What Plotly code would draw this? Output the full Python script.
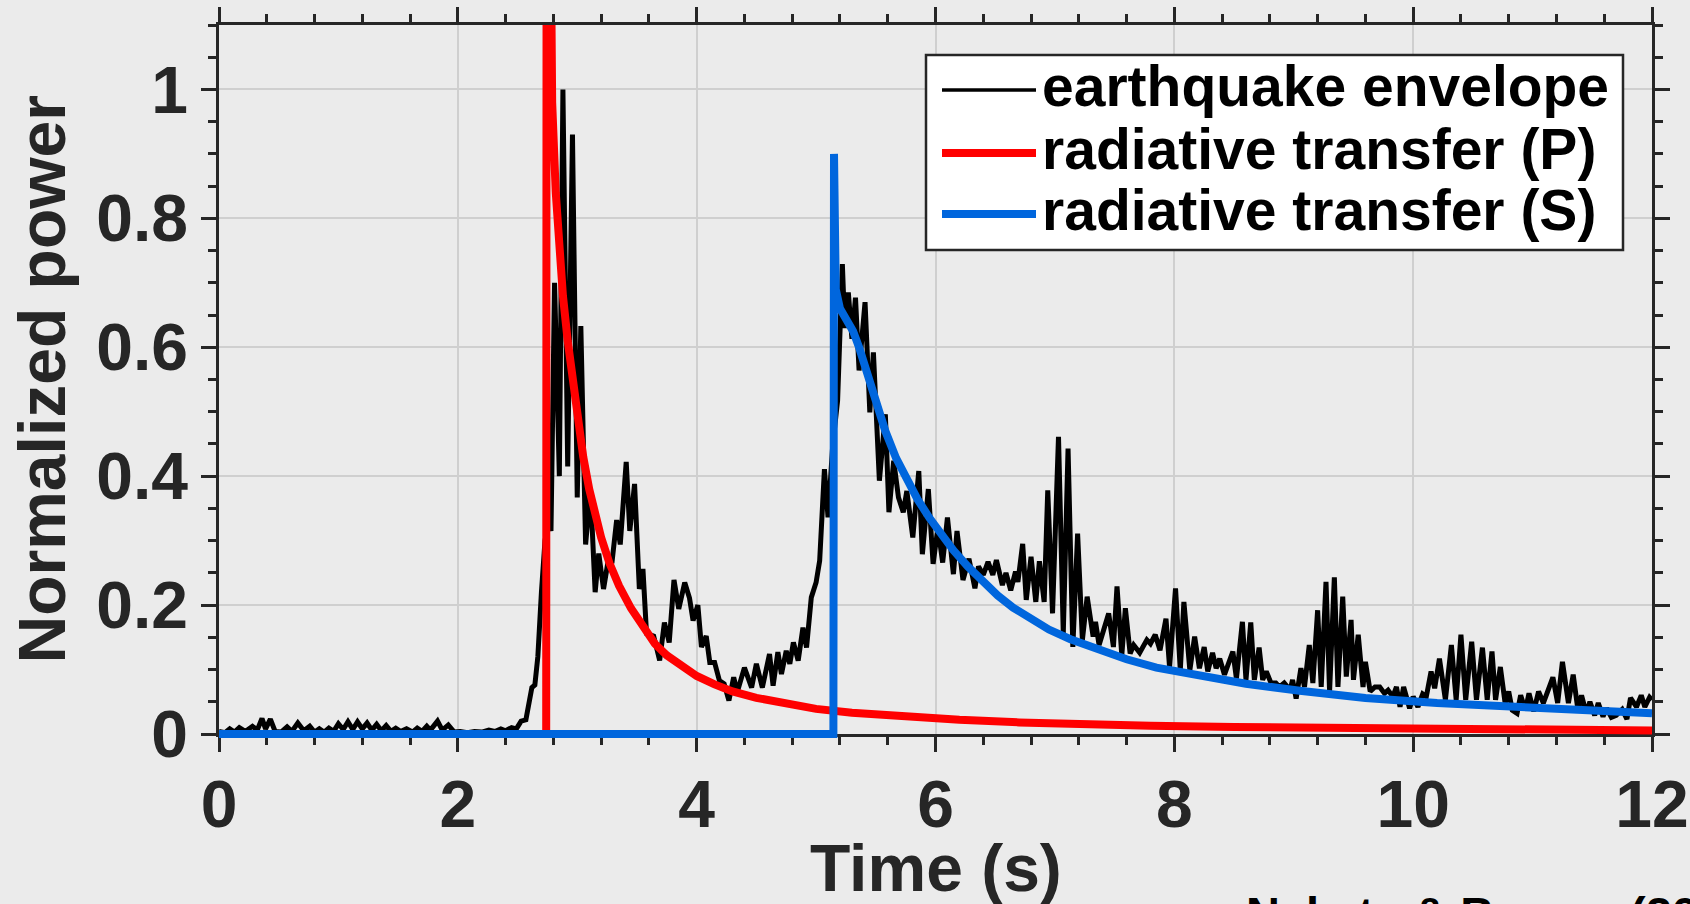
import plotly.graph_objects as go

# ---- data -------------------------------------------------------------
# Observed earthquake envelope (time in s, normalized power)
env_t = [
    0.00, 0.05, 0.09, 0.13, 0.17, 0.22, 0.28, 0.32, 0.36, 0.39, 0.43, 0.47,
    0.52, 0.57, 0.61, 0.66, 0.71, 0.76, 0.80, 0.84, 0.88, 0.92, 0.96, 1.00,
    1.04, 1.08, 1.12, 1.16, 1.20, 1.24, 1.28, 1.32, 1.36, 1.40, 1.44, 1.48,
    1.52, 1.57, 1.62, 1.66, 1.70, 1.74, 1.77, 1.83, 1.87, 1.92, 1.97, 2.02,
    2.08, 2.14, 2.20, 2.26, 2.31, 2.36, 2.40, 2.45, 2.49, 2.53, 2.57, 2.60,
    2.62, 2.645, 2.67, 2.70, 2.73, 2.76, 2.78, 2.81, 2.85, 2.88, 2.92, 2.96,
    3.00, 3.03, 3.07, 3.11, 3.15, 3.18, 3.22, 3.26, 3.29, 3.33, 3.36, 3.41,
    3.44, 3.48, 3.52, 3.55, 3.58, 3.64, 3.69, 3.73, 3.77, 3.81, 3.85, 3.90,
    3.94, 3.97, 4.01, 4.04, 4.08, 4.11, 4.15, 4.19, 4.23, 4.27, 4.31, 4.34,
    4.40, 4.46, 4.50, 4.55, 4.61, 4.64, 4.68, 4.71, 4.75, 4.78, 4.81, 4.85,
    4.89, 4.92, 4.96, 5.00, 5.03, 5.07, 5.10, 5.14, 5.18, 5.22, 5.24, 5.27,
    5.30, 5.33, 5.36, 5.41, 5.45, 5.48, 5.53, 5.58, 5.61, 5.65, 5.69, 5.73,
    5.76, 5.81, 5.86, 5.89, 5.94, 5.98, 6.02, 6.06, 6.10, 6.15, 6.18, 6.23,
    6.28, 6.33, 6.36, 6.40, 6.44, 6.48, 6.51, 6.56, 6.59, 6.63, 6.67, 6.69,
    6.73, 6.76, 6.80, 6.84, 6.87, 6.91, 6.94, 6.98, 7.03, 7.07, 7.11, 7.15,
    7.19, 7.23, 7.27, 7.32, 7.34, 7.37, 7.41, 7.45, 7.49, 7.52, 7.56, 7.59,
    7.63, 7.66, 7.71, 7.77, 7.80, 7.84, 7.88, 7.93, 7.96, 8.01, 8.05, 8.08,
    8.13, 8.17, 8.21, 8.25, 8.28, 8.32, 8.35, 8.38, 8.42, 8.49, 8.52, 8.57,
    8.60, 8.64, 8.67, 8.71, 8.74, 8.77, 8.81, 8.85, 8.88, 8.92, 8.97, 8.99,
    9.02, 9.06, 9.09, 9.13, 9.16, 9.20, 9.23, 9.27, 9.30, 9.34, 9.37, 9.41,
    9.44, 9.48, 9.50, 9.54, 9.58, 9.60, 9.64, 9.68, 9.72, 9.76, 9.79, 9.83,
    9.86, 9.89, 9.92, 9.97, 10.00, 10.04, 10.08, 10.11, 10.15, 10.18, 10.22,
    10.27, 10.32, 10.36, 10.40, 10.44, 10.49, 10.53, 10.58, 10.62, 10.66,
    10.69, 10.73, 10.77, 10.80, 10.83, 10.87, 10.90, 10.94, 10.97, 11.01,
    11.05, 11.09, 11.13, 11.17, 11.21, 11.25, 11.30, 11.34, 11.38, 11.41,
    11.45, 11.48, 11.52, 11.55, 11.59, 11.62, 11.66, 11.70, 11.75, 11.79,
    11.82, 11.87, 11.91, 11.94, 11.98, 12.00,
]
env_v = [
    0.004, 0.002, 0.008, 0.003, 0.010, 0.004, 0.012, 0.006, 0.024, 0.008, 0.023, 0.004,
    0.003, 0.011, 0.004, 0.017, 0.005, 0.012, 0.003, 0.008, 0.003, 0.009, 0.004, 0.016,
    0.007, 0.019, 0.007, 0.019, 0.008, 0.017, 0.006, 0.015, 0.005, 0.013, 0.004, 0.009,
    0.004, 0.008, 0.003, 0.009, 0.004, 0.012, 0.006, 0.020, 0.006, 0.014, 0.003, 0.004,
    0.002, 0.004, 0.003, 0.006, 0.004, 0.008, 0.005, 0.010, 0.008, 0.020, 0.022, 0.050,
    0.072, 0.076, 0.120, 0.220, 0.300, 0.330, 0.315, 0.700, 0.400, 1.000, 0.415, 0.930,
    0.367, 0.633, 0.294, 0.380, 0.220, 0.280, 0.225, 0.270, 0.265, 0.332, 0.294, 0.422,
    0.315, 0.388, 0.225, 0.256, 0.156, 0.152, 0.114, 0.173, 0.142, 0.239, 0.194, 0.235,
    0.211, 0.176, 0.200, 0.135, 0.152, 0.111, 0.111, 0.083, 0.078, 0.052, 0.088, 0.065,
    0.103, 0.072, 0.109, 0.072, 0.124, 0.075, 0.127, 0.093, 0.129, 0.109, 0.142, 0.114,
    0.165, 0.134, 0.212, 0.235, 0.269, 0.411, 0.336, 0.450, 0.517, 0.729, 0.630, 0.685,
    0.613, 0.677, 0.564, 0.670, 0.499, 0.592, 0.393, 0.496, 0.344, 0.424, 0.367, 0.344,
    0.377, 0.305, 0.408, 0.279, 0.380, 0.264, 0.320, 0.266, 0.336, 0.248, 0.315, 0.239,
    0.272, 0.226, 0.260, 0.247, 0.267, 0.247, 0.270, 0.231, 0.250, 0.223, 0.252, 0.236,
    0.295, 0.208, 0.275, 0.205, 0.268, 0.205, 0.378, 0.187, 0.461, 0.156, 0.443, 0.135,
    0.311, 0.146, 0.213, 0.151, 0.174, 0.138, 0.161, 0.187, 0.135, 0.229, 0.122, 0.195,
    0.125, 0.138, 0.126, 0.146, 0.140, 0.154, 0.130, 0.179, 0.104, 0.226, 0.099, 0.205,
    0.099, 0.151, 0.102, 0.135, 0.097, 0.126, 0.102, 0.117, 0.092, 0.128, 0.086, 0.174,
    0.084, 0.173, 0.084, 0.134, 0.084, 0.097, 0.079, 0.079, 0.073, 0.079, 0.068, 0.084,
    0.055, 0.102, 0.073, 0.138, 0.079, 0.192, 0.073, 0.236, 0.066, 0.243, 0.073, 0.213,
    0.089, 0.177, 0.084, 0.154, 0.073, 0.112, 0.066, 0.073, 0.073, 0.063, 0.068, 0.058,
    0.073, 0.042, 0.073, 0.040, 0.058, 0.042, 0.062, 0.058, 0.097, 0.071, 0.117,
    0.053, 0.138, 0.053, 0.154, 0.053, 0.143, 0.053, 0.134, 0.053, 0.128,
    0.053, 0.104, 0.048, 0.066, 0.037, 0.032, 0.060, 0.037, 0.063, 0.035,
    0.066, 0.048, 0.066, 0.088, 0.048, 0.112, 0.048, 0.092, 0.037, 0.060,
    0.032, 0.050, 0.029, 0.048, 0.027, 0.040, 0.026, 0.029, 0.038, 0.023,
    0.056, 0.042, 0.060, 0.042, 0.057, 0.053,
]

# Radiative transfer model, P wave
p_t = [0.0, 2.74, 2.745, 2.77, 2.79, 2.82, 2.85, 2.88, 2.92, 2.96, 3.00, 3.05,
       3.10, 3.15, 3.20, 3.27, 3.35, 3.45, 3.55, 3.65, 3.75, 3.85, 4.00, 4.15,
       4.30, 4.50, 4.75, 5.00, 5.30, 5.70, 6.20, 6.70, 7.20, 7.80, 8.50, 9.20,
       10.20, 11.10, 12.00]
p_v = [0.0, 0.0, 2.0, 1.10, 0.98, 0.84, 0.75, 0.68, 0.61, 0.55, 0.49, 0.43,
       0.38, 0.34, 0.305, 0.265, 0.23, 0.195, 0.165, 0.14, 0.122, 0.108, 0.09, 0.077,
       0.066, 0.056, 0.046, 0.039, 0.033, 0.027, 0.022, 0.018, 0.015, 0.0128, 0.011, 0.0095,
       0.0078, 0.0065, 0.0055]

# Radiative transfer model, S wave
s_t = [0.0, 5.145, 5.15, 5.165, 5.20, 5.25, 5.31, 5.36, 5.42, 5.50, 5.58, 5.67,
       5.76, 5.85, 5.95, 6.05, 6.15, 6.27, 6.40, 6.52, 6.65, 6.80, 6.95, 7.13,
       7.35, 7.60, 7.85, 8.20, 8.60, 9.05, 9.60, 10.20, 10.80, 11.40, 12.00]
s_v = [0.0, 0.0, 0.90, 0.69, 0.660, 0.645, 0.625, 0.600, 0.565, 0.515, 0.470, 0.428,
       0.393, 0.364, 0.335, 0.308, 0.285, 0.260, 0.236, 0.215, 0.196, 0.178, 0.162, 0.147,
       0.131, 0.116, 0.103, 0.090, 0.078, 0.067, 0.056, 0.048, 0.042, 0.036, 0.032]

x_ticks = [0, 2, 4, 6, 8, 10, 12]
y_ticks = [0, 0.2, 0.4, 0.6, 0.8, 1.0]
y_tick_text = ["0", "0.2", "0.4", "0.6", "0.8", "1"]

legend_names = ["earthquake envelope", "radiative transfer (P)", "radiative transfer (S)"]

# ---- styling ----------------------------------------------------------
W, H = 1690, 904
L, R, T, B = 219, 38, 25, 166          # outer plot box (4 px of slack at the bottom)
AXIS_BOTTOM = 734                       # pixel row of y = 0
FONT = "Liberation Sans, Arial, Helvetica, sans-serif"
AX = "#262626"
BG = "#EBEBEB"
GRID = "#CFCFCF"
RED = "#FF0000"
BLUE = "#0066DD"
Y_MAX = 1.1

plot_h = H - T - B
px_per_unit = (AXIS_BOTTOM - T) / Y_MAX
y2_min = Y_MAX - plot_h / px_per_unit   # lets thick model lines overlap the bottom axis


def px_x(px):
    return (px - L) / (W - L - R)


def px_y(py):
    return (H - B - py) / plot_h


fig = go.Figure()
fig.add_trace(go.Scatter(x=env_t, y=env_v, mode="lines", name=legend_names[0],
                         line=dict(color="black", width=5), showlegend=False,
                         xaxis="x", yaxis="y"))
fig.add_trace(go.Scatter(x=p_t, y=p_v, mode="lines", name=legend_names[1],
                         line=dict(color=RED, width=8), showlegend=False,
                         xaxis="x2", yaxis="y2"))
fig.add_trace(go.Scatter(x=s_t, y=s_v, mode="lines", name=legend_names[2],
                         line=dict(color=BLUE, width=8), showlegend=False,
                         xaxis="x2", yaxis="y2"))

tickfont = dict(family=FONT, size=66, color=AX, weight="bold")
titlefont = dict(family=FONT, size=66, color=AX, weight="bold")
minor_common = dict(ticks="outside", ticklen=8, tickwidth=2.5, tickcolor=AX, showgrid=False)

# legend box drawn as shapes + text
legend_rows = [90, 153, 214]
legend_colors = ["black", RED, BLUE]
legend_widths = [3.5, 8, 8]
shapes = [dict(type="rect", xref="paper", yref="paper",
               x0=px_x(926), x1=px_x(1623), y0=px_y(250), y1=px_y(55),
               fillcolor="white", line=dict(color=AX, width=2.5), layer="above")]
annotations = []
for row, col, lw, name in zip(legend_rows, legend_colors, legend_widths, legend_names):
    shapes.append(dict(type="line", xref="paper", yref="paper",
                       x0=px_x(942), x1=px_x(1036), y0=px_y(row), y1=px_y(row),
                       line=dict(color=col, width=lw), layer="above"))
    annotations.append(dict(text=name, xref="paper", yref="paper",
                            x=px_x(1040), xanchor="left", y=px_y(row - 4), yanchor="middle",
                            showarrow=False,
                            font=dict(family=FONT, size=57, color="black", weight="bold")))

# axis titles
annotations.append(dict(text="Time (s)", xref="paper", yref="paper",
                        x=px_x(935.5), xanchor="center", y=px_y(829), yanchor="top",
                        showarrow=False, font=titlefont))
annotations.append(dict(text="Normalized power", xref="paper", yref="paper",
                        x=px_x(42), xanchor="center", y=px_y(379.5), yanchor="middle",
                        textangle=-90, showarrow=False, font=titlefont))
annotations.append(dict(text="Nakata & Beroza (2015)", xref="paper", yref="paper",
                        x=px_x(1244), xanchor="left", y=px_y(885), yanchor="top",
                        showarrow=False,
                        font=dict(family=FONT, size=47, color="black", weight="bold")))

fig.update_layout(
    width=W, height=H,
    margin=dict(l=L, r=R, t=T, b=B, pad=0),
    paper_bgcolor=BG, plot_bgcolor="rgba(0,0,0,0)",
    font=dict(family=FONT, color=AX),
    showlegend=False,
    xaxis=dict(
        domain=[0, 1], anchor="y", range=[0, 12], tickvals=x_ticks, ticks="outside",
        ticklen=15, tickwidth=2.5, tickcolor=AX, showline=True, linecolor=AX,
        linewidth=2.5, mirror="allticks", showgrid=True, gridcolor=GRID, gridwidth=2,
        zeroline=False, tickfont=tickfont, automargin=False, ticklabelstandoff=-4,
        minor=dict(dtick=0.4, tick0=0, **minor_common),
    ),
    yaxis=dict(
        domain=[(H - B - AXIS_BOTTOM) / plot_h, 1], anchor="x", range=[0, Y_MAX],
        tickvals=y_ticks, ticktext=y_tick_text, ticks="outside",
        ticklen=15, tickwidth=2.5, tickcolor=AX, showline=True, linecolor=AX,
        linewidth=2.5, mirror="allticks", showgrid=True, gridcolor=GRID, gridwidth=2,
        zeroline=False, tickfont=tickfont, automargin=False, ticklabelstandoff=0,
        minor=dict(dtick=0.05, tick0=0, **minor_common),
    ),
    xaxis2=dict(domain=[0, 1], anchor="y2", range=[0, 12], visible=False,
                showgrid=False, zeroline=False),
    yaxis2=dict(domain=[0, 1], anchor="x2", range=[y2_min, Y_MAX], visible=False,
                showgrid=False, zeroline=False),
    shapes=shapes,
    annotations=annotations,
)

fig.write_html("out.html")
